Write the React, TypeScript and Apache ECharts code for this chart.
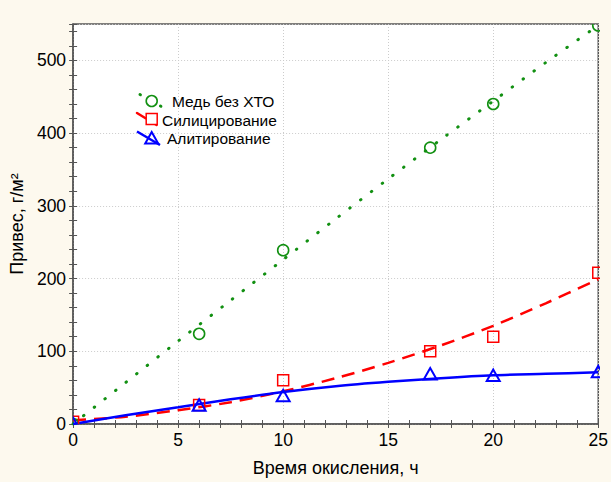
import React, { useEffect, useRef } from "react";
import * as echarts from "echarts";

// measured points
const xMarkers = [0, 6, 10, 17, 20, 25];
const copperPoints = [0, 124, 239, 380, 440, 548];
const siliconPoints = [3, 26, 60, 100, 120, 208];
const aluminPoints = [0, 25, 38, 68, 66, 71];

// fitted curves
const fitX = [0, 2.5, 5, 7.5, 10, 12.5, 15, 17.5, 20, 22.5, 25];
const copperFit = [0, 57, 114, 170, 226, 282, 337, 391, 444, 497, 548];
const siliconFit = [5, 10, 19, 30, 45, 63, 84, 108, 135, 166, 199];
const aluminFit = [0, 12, 23, 34, 44, 52, 58, 63, 67, 69, 71];

const seriesNames = ["Медь без ХТО", "Силицирование", "Алитирование"];
const xTitle = "Время окисления, ч";
const yTitle = "Привес, г/м²";

const FONT = "'Liberation Sans', Arial, sans-serif";
const GREEN = "#129012";
const RED = "#ff0000";
const BLUE = "#0000ff";
const AXIS = "#555555";
const BG = "#fdf9ee";

const G = { left: 73, top: 24, right: 11, bottom: 55 };

function pairs(xs: number[], ys: number[]) {
  return xs.map((x, i) => [x, ys[i]]);
}

function markerSeries(name: string, data: number[][], kind: string, color: string) {
  return {
    type: "custom",
    name,
    clip: true,
    z: 5,
    encode: { x: 0, y: 1 },
    data,
    renderItem: (params: any, api: any) => {
      const p = api.coord([api.value(0), api.value(1)]);
      if (kind === "circle") {
        return {
          type: "circle",
          shape: { cx: p[0], cy: p[1], r: 5.5 },
          style: { fill: "none", stroke: color, lineWidth: 1.6 },
        };
      }
      if (kind === "rect") {
        return {
          type: "rect",
          shape: { x: p[0] - 5.5, y: p[1] - 5.5, width: 11, height: 11 },
          style: { fill: "none", stroke: color, lineWidth: 1.5 },
        };
      }
      return {
        type: "polygon",
        shape: {
          points: [
            [p[0], p[1] - 6.5],
            [p[0] - 6.5, p[1] + 5],
            [p[0] + 6.5, p[1] + 5],
          ],
        },
        style: { fill: "none", stroke: color, lineWidth: 2 },
      };
    },
  };
}

function buildOption() {
  const tickAxisCommon = {
    type: "value",
    axisLine: { show: false },
    axisLabel: { show: false },
    splitLine: { show: false },
    axisTick: { show: true, inside: true, length: 4, lineStyle: { color: AXIS, width: 1 } },
  };
  const legendFont = `15.5px ${FONT}`;
  return {
    animation: false,
    backgroundColor: BG,
    grid: {
      ...G,
      show: true,
      backgroundColor: "#ffffff",
      borderColor: AXIS,
      borderWidth: 1.5,
      containLabel: false,
    },
    xAxis: [
      {
        type: "value",
        min: 0,
        max: 25,
        interval: 5,
        position: "bottom",
        name: xTitle,
        nameLocation: "middle",
        nameGap: 35,
        nameTextStyle: { fontSize: 18, color: "#000", fontFamily: FONT },
        axisLine: { show: true, lineStyle: { color: AXIS, width: 1.5 } },
        axisTick: { show: false },
        axisLabel: { margin: 7, fontSize: 17.5, color: "#000", fontFamily: FONT },
        splitLine: { show: true, lineStyle: { color: "#cccccc", type: [1, 2], width: 1 } },
      },
      { ...tickAxisCommon, min: 0, max: 25, interval: 1, position: "bottom" },
      { ...tickAxisCommon, min: 0, max: 25, interval: 1, position: "top" },
    ],
    yAxis: [
      {
        type: "value",
        min: 0,
        max: 550,
        interval: 100,
        position: "left",
        name: yTitle,
        nameLocation: "middle",
        nameGap: 43,
        nameTextStyle: { fontSize: 18, color: "#000", fontFamily: FONT },
        axisLine: { show: true, lineStyle: { color: AXIS, width: 1.5 } },
        axisTick: { show: false },
        axisLabel: {
          margin: 7,
          fontSize: 17.5,
          color: "#000",
          fontFamily: FONT,
          showMaxLabel: false,
          formatter: (v: number) => (v % 100 === 0 ? String(v) : ""),
        },
        splitLine: { show: true, lineStyle: { color: "#cccccc", type: [1, 2], width: 1 } },
      },
      { ...tickAxisCommon, min: 0, max: 550, interval: 20, position: "left" },
      { ...tickAxisCommon, min: 0, max: 550, interval: 20, position: "right" },
    ],
    series: [
      {
        type: "line",
        name: seriesNames[0] + " (аппроксимация)",
        data: pairs(fitX, copperFit),
        smooth: 0.3,
        showSymbol: false,
        clip: true,
        lineStyle: { color: GREEN, width: 3, type: [0.5, 13], cap: "round" },
        z: 3,
      },
      {
        type: "line",
        name: seriesNames[1] + " (аппроксимация)",
        data: pairs(fitX, siliconFit),
        smooth: 0.3,
        showSymbol: false,
        clip: true,
        lineStyle: { color: RED, width: 2.5, type: [13, 8] },
        z: 3,
      },
      {
        type: "line",
        name: seriesNames[2] + " (аппроксимация)",
        data: pairs(fitX, aluminFit),
        smooth: 0.3,
        showSymbol: false,
        clip: true,
        lineStyle: { color: BLUE, width: 2.5 },
        z: 3,
      },
      markerSeries(seriesNames[0], pairs(xMarkers, copperPoints), "circle", GREEN),
      markerSeries(seriesNames[1], pairs(xMarkers, siliconPoints), "rect", RED),
      markerSeries(seriesNames[2], pairs(xMarkers, aluminPoints), "triangle", BLUE),
    ],
    graphic: [
      // legend: copper
      {
        type: "line",
        z: 100,
        shape: { x1: 140, y1: 94.5, x2: 164, y2: 108 },
        style: { stroke: GREEN, lineWidth: 3, lineDash: [0.5, 23], lineCap: "round" },
      },
      {
        type: "circle",
        z: 101,
        shape: { cx: 151.7, cy: 101, r: 5.5 },
        style: { fill: "#fff", stroke: GREEN, lineWidth: 1.6 },
      },
      {
        type: "text",
        z: 101,
        x: 172,
        y: 101,
        style: { text: seriesNames[0], fill: "#000", font: legendFont, verticalAlign: "middle" },
      },
      // legend: silicon
      {
        type: "line",
        z: 100,
        shape: { x1: 137, y1: 113, x2: 160, y2: 127 },
        style: { stroke: RED, lineWidth: 2.5, lineDash: [10, 11, 2, 10], lineCap: "round" },
      },
      {
        type: "rect",
        z: 101,
        shape: { x: 146.2, y: 113.5, width: 11, height: 11 },
        style: { fill: "#fff", stroke: RED, lineWidth: 1.5 },
      },
      {
        type: "text",
        z: 101,
        x: 162,
        y: 120,
        style: { text: seriesNames[1], fill: "#000", font: legendFont, verticalAlign: "middle" },
      },
      // legend: aluminium
      {
        type: "line",
        z: 100,
        shape: { x1: 137, y1: 131.5, x2: 160, y2: 145 },
        style: { stroke: BLUE, lineWidth: 2.5 },
      },
      {
        type: "polygon",
        z: 101,
        shape: {
          points: [
            [151.7, 132],
            [145.2, 143.5],
            [158.2, 143.5],
          ],
        },
        style: { fill: "none", stroke: BLUE, lineWidth: 2 },
      },
      {
        type: "text",
        z: 101,
        x: 167,
        y: 138,
        style: { text: seriesNames[2], fill: "#000", font: legendFont, verticalAlign: "middle" },
      },
    ],
  };
}

export default function App() {
  const ref = useRef<HTMLDivElement>(null);
  useEffect(() => {
    document.body.style.margin = "0";
    const chart = echarts.init(ref.current as HTMLDivElement, undefined, { renderer: "svg" });
    chart.setOption(buildOption() as any);
    return () => chart.dispose();
  }, []);
  return <div ref={ref} style={{ width: 611, height: 482 }} />;
}
